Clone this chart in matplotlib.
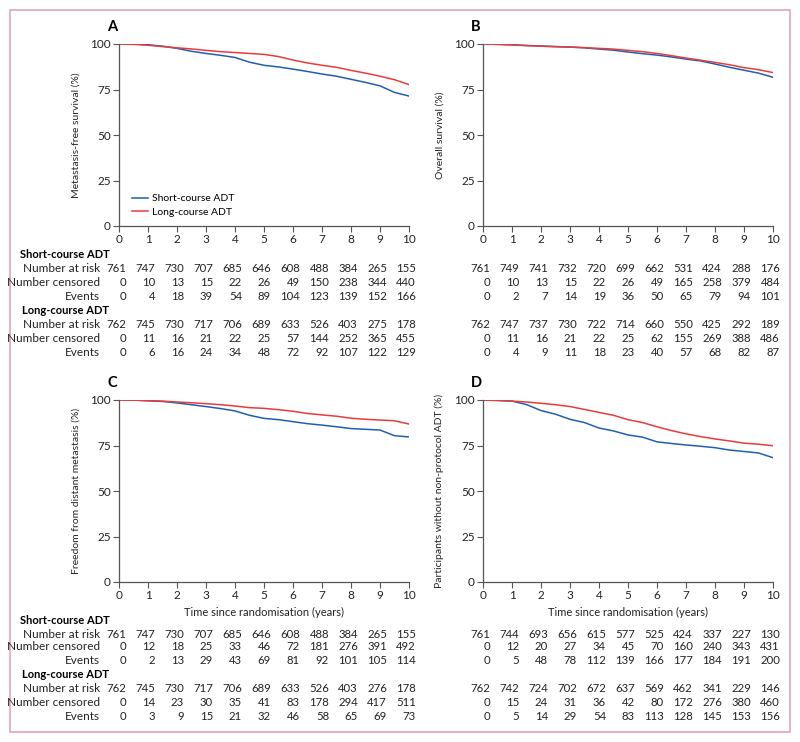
import numpy as np
import matplotlib
matplotlib.use("Agg")
import matplotlib.pyplot as plt
from matplotlib.patches import Rectangle
from matplotlib.transforms import blended_transform_factory

plt.rcParams['font.family'] = ['Lato', 'DejaVu Sans']

# time grid (years) used for the curve readings
years = [0, 0.5, 1, 1.5, 2, 2.5, 3, 3.5, 4, 4.5, 5, 5.5, 6, 6.5, 7, 7.5, 8, 8.5, 9, 9.5, 10]

# A - metastasis-free survival (%)
mfs_short = [100, 100, 99.6, 98.8, 97.6, 96.0, 94.8, 93.8, 92.6, 90.0, 88.3, 87.4, 86.2, 84.9, 83.5, 82.3, 80.6, 78.9, 77.0, 73.4, 71.4]
mfs_long = [100, 99.8, 99.3, 98.6, 97.9, 97.3, 96.5, 95.8, 95.3, 94.8, 94.3, 93.1, 91.2, 89.6, 88.3, 87.2, 85.5, 84.0, 82.3, 80.4, 77.7]
# B - overall survival (%)
os_short = [100, 99.8, 99.6, 99.2, 98.9, 98.6, 98.3, 97.9, 97.2, 96.6, 95.6, 94.7, 93.9, 92.9, 91.7, 90.7, 89.0, 87.2, 85.6, 84.0, 81.7]
os_long = [100, 99.8, 99.5, 99.1, 98.8, 98.5, 98.3, 98.0, 97.6, 97.2, 96.5, 95.8, 94.8, 93.6, 92.3, 91.1, 89.9, 88.6, 87.0, 85.9, 84.3]
# C - freedom from distant metastasis (%)
dm_short = [100, 100, 99.6, 99.2, 98.4, 97.4, 96.4, 95.3, 94.0, 91.6, 89.9, 89.2, 88.1, 87.0, 86.2, 85.3, 84.3, 83.9, 83.5, 80.4, 79.7]
dm_long = [100, 99.9, 99.6, 99.4, 98.9, 98.5, 98.0, 97.4, 96.7, 95.8, 95.4, 94.7, 93.8, 92.6, 91.8, 91.1, 90.0, 89.4, 89.0, 88.6, 86.8]
# D - participants without non-protocol ADT (%)
np_short = [100, 99.8, 99.4, 97.5, 94.2, 92.2, 89.4, 87.6, 84.6, 83.0, 80.8, 79.6, 77.0, 76.1, 75.3, 74.6, 73.8, 72.5, 71.7, 70.9, 68.3]
np_long = [100, 99.7, 99.4, 98.9, 98.2, 97.4, 96.4, 94.8, 93.2, 91.6, 89.2, 87.6, 85.3, 83.2, 81.4, 79.9, 78.6, 77.5, 76.3, 75.7, 74.9]

# risk tables (at years 0..10)
A_short = [[761, 747, 730, 707, 685, 646, 608, 488, 384, 265, 155],
           [0, 10, 13, 15, 22, 26, 49, 150, 238, 344, 440],
           [0, 4, 18, 39, 54, 89, 104, 123, 139, 152, 166]]
A_long = [[762, 745, 730, 717, 706, 689, 633, 526, 403, 275, 178],
          [0, 11, 16, 21, 22, 25, 57, 144, 252, 365, 455],
          [0, 6, 16, 24, 34, 48, 72, 92, 107, 122, 129]]
B_short = [[761, 749, 741, 732, 720, 699, 662, 531, 424, 288, 176],
           [0, 10, 13, 15, 22, 26, 49, 165, 258, 379, 484],
           [0, 2, 7, 14, 19, 36, 50, 65, 79, 94, 101]]
B_long = [[762, 747, 737, 730, 722, 714, 660, 550, 425, 292, 189],
          [0, 11, 16, 21, 22, 25, 62, 155, 269, 388, 486],
          [0, 4, 9, 11, 18, 23, 40, 57, 68, 82, 87]]
C_short = [[761, 747, 730, 707, 685, 646, 608, 488, 384, 265, 155],
           [0, 12, 18, 25, 33, 46, 72, 181, 276, 391, 492],
           [0, 2, 13, 29, 43, 69, 81, 92, 101, 105, 114]]
C_long = [[762, 745, 730, 717, 706, 689, 633, 526, 403, 276, 178],
          [0, 14, 23, 30, 35, 41, 83, 178, 294, 417, 511],
          [0, 3, 9, 15, 21, 32, 46, 58, 65, 69, 73]]
D_short = [[761, 744, 693, 656, 615, 577, 525, 424, 337, 227, 130],
           [0, 12, 20, 27, 34, 45, 70, 160, 240, 343, 431],
           [0, 5, 48, 78, 112, 139, 166, 177, 184, 191, 200]]
D_long = [[762, 742, 724, 702, 672, 637, 569, 462, 341, 229, 146],
          [0, 15, 24, 31, 36, 42, 80, 172, 276, 380, 460],
          [0, 5, 14, 29, 54, 83, 113, 128, 145, 153, 156]]

row_names = ['Number at risk', 'Number censored', 'Events']
blue = '#1f5fb0'
red = '#ea3b3b'
W, H = 800, 742

fig = plt.figure(figsize=(8, 7.42), dpi=100)
fig.patches.append(Rectangle((10 / W, 10 / H), 780 / W, 722 / H, transform=fig.transFigure,
                             fill=False, edgecolor='#e3a3bb', linewidth=1.2))


def fy(py):
    return 1 - py / H


panels = [
    ('A', 119, 44, 226, 'Metastasis-free survival (%)', mfs_short, mfs_long, A_short, A_long, True, False),
    ('B', 483, 44, 226, 'Overall survival (%)', os_short, os_long, B_short, B_long, False, False),
    ('C', 119, 400, 582, 'Freedom from distant metastasis (%)', dm_short, dm_long, C_short, C_long, True, True),
    ('D', 483, 400, 582, 'Participants without non-protocol ADT (%)', np_short, np_long, D_short, D_long, False, True),
]

for letter, left, top, bottom, ylab, s_vals, l_vals, s_tab, l_tab, left_col, bottom_row in panels:
    width = 290
    ax = fig.add_axes([left / W, fy(bottom), width / W, (bottom - top) / H])
    ax.plot(years, s_vals, color=blue, lw=1.1, label='Short-course ADT')
    ax.plot(years, l_vals, color=red, lw=1.1, label='Long-course ADT')
    ax.set_xlim(0, 10)
    ax.set_ylim(0, 100)
    ax.set_xticks(range(11))
    ax.set_yticks([0, 25, 50, 75, 100])
    for side in ['top', 'right']:
        ax.spines[side].set_visible(False)
    for side in ['left', 'bottom']:
        ax.spines[side].set_color('#555555')
        ax.spines[side].set_linewidth(0.9)
    ax.tick_params(colors='#555555', labelcolor='#222222', labelsize=8.5, length=4, width=0.8, pad=2)
    ax.set_ylabel(ylab, fontsize=7.5, color='#222222', labelpad=7)
    ax.margins(0)
    fig.text((left - 12) / W, fy(top - 17), letter, fontsize=10.5, fontweight='bold', va='center', ha='left')
    if letter == 'A':
        ax.legend(loc='lower left', bbox_to_anchor=(0.045, 0.05), frameon=False, fontsize=7.5,
                  handlelength=1.5, handletextpad=0.45, labelspacing=0.4, borderpad=0, borderaxespad=0)
    if bottom_row:
        ax.set_xlabel('Time since randomisation (years)', fontsize=8, color='#222222', labelpad=4)
        rows_y = [620, 634, 647, 661, 675, 689, 703, 716]
    else:
        rows_y = [255, 269, 283, 297, 311, 325, 339, 353]

    tr = blended_transform_factory(ax.transData, fig.transFigure)
    for g, (name, tab) in enumerate([('Short-course ADT', s_tab), ('Long-course ADT', l_tab)]):
        hy = rows_y[g * 4]
        if left_col:
            fig.text((20 + 2 * g) / W, fy(hy), name, fontsize=8, fontweight='bold', va='center', ha='left')
        for r in range(3):
            ry = rows_y[g * 4 + 1 + r]
            if left_col:
                fig.text(100 / W, fy(ry), row_names[r], fontsize=8.5, va='center', ha='right', color='#222222')
            for i, v in enumerate(tab[r]):
                ax.text(i + 0.24, fy(ry), str(v), transform=tr, fontsize=8.2, va='center', ha='right',
                        color='#222222')

fig.savefig('out.png', dpi=100)
